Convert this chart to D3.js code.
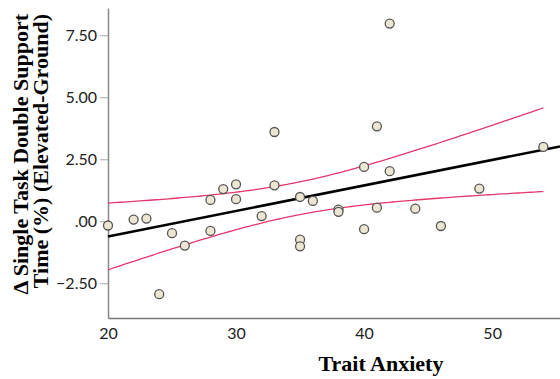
<!DOCTYPE html>
<html>
<head>
<meta charset="utf-8">
<script src="https://cdn.jsdelivr.net/npm/d3@7"></script>
<style>
  body { margin: 0; background: #fff; }
  .tick text { font-family: Lato, "Open Sans", sans-serif; font-size: 16px; fill: #222; }
  .axis-title { font-family: "Liberation Serif", "Times New Roman", serif; font-weight: bold; font-size: 22px; fill: #000; }
</style>
</head>
<body>
<main></main>
<script>
// trait anxiety scores (x) and change in double support time (y)
const anxiety = [20, 22, 23, 24, 25, 26, 28, 28, 29, 30, 30, 32, 33, 33, 35, 35, 35, 36, 38, 38, 40, 40, 41, 41, 42, 42, 44, 46, 49, 54];
const dsDelta = [-0.17, 0.07, 0.11, -2.94, -0.48, -0.98, 0.86, -0.39, 1.30, 1.49, 0.89, 0.21, 3.60, 1.45, 0.98, -0.74, -1.01, 0.82, 0.47, 0.38, 2.19, -0.32, 3.83, 0.55, 2.02, 7.97, 0.51, -0.19, 1.32, 3.00];
const xTicks = [20, 30, 40, 50];
const yTicks = [-2.5, 0, 2.5, 5, 7.5];

const W = 560, H = 379;
const x = d3.scaleLinear().domain([20, 55.3]).range([108, 560]);
const y = d3.scaleLinear().domain([-3.9, 8.6]).range([318, 8]);

const svg = d3.select("main").append("svg")
    .attr("width", W)
    .attr("height", H);

const data = anxiety.map((a, i) => ({x: a, y: dsDelta[i]}));

// linear fit + 95% CI of the mean
const n = data.length
    , mx = d3.mean(data, d => d.x)
    , my = d3.mean(data, d => d.y)
    , sxx = d3.sum(data, d => (d.x - mx) ** 2)
    , sxy = d3.sum(data, d => (d.x - mx) * (d.y - my));
const slope = sxy / sxx, icpt = my - slope * mx;
const sres = Math.sqrt(d3.sum(data, d => (d.y - icpt - slope * d.x) ** 2) / (n - 2));
const tcrit = 2.048; // df = 28
const fit = v => icpt + slope * v;
const band = v => tcrit * sres * Math.sqrt(1 / n + (v - mx) ** 2 / sxx);

// y axis
const yAxis = svg.append("g")
    .attr("transform", `translate(${x(20)},0)`)
    .call(d3.axisLeft(y).tickValues(yTicks).tickSize(8).tickSizeOuter(0).tickPadding(3)
      .tickFormat(d => d === 0 ? ".00" : d3.format(".2f")(d)));
yAxis.select(".domain").attr("stroke", "#888").attr("stroke-width", 1.5);
yAxis.selectAll(".tick line").attr("stroke", "#aaa");

// x axis
const xAxis = svg.append("g")
    .attr("transform", `translate(0,${y(-3.9)})`)
    .call(d3.axisBottom(x).tickValues(xTicks).tickSize(0).tickSizeOuter(0).tickPadding(10));
xAxis.select(".domain").attr("stroke", "#777").attr("stroke-width", 1.5);

// CI curves
const xs = d3.range(20, 54.01, 0.25);
const line = d3.line().x(d => x(d[0])).y(d => y(d[1]));
[1, -1].forEach(s => {
  svg.append("path")
      .attr("d", line(xs.map(v => [v, fit(v) + s * band(v)])))
      .attr("fill", "none")
      .attr("stroke", "#e2386a")
      .attr("stroke-width", 1.3);
});

// fit line
svg.append("path")
    .attr("d", line([[20, fit(20)], [55.3, fit(55.3)]]))
    .attr("fill", "none")
    .attr("stroke", "#000")
    .attr("stroke-width", 2.5);

// points
svg.selectAll(".dot")
    .data(data)
  .enter().append("circle")
    .attr("class", "dot")
    .attr("cx", d => x(d.x))
    .attr("cy", d => y(d.y))
    .attr("r", 4.5)
    .attr("fill", "#ebe5d2")
    .attr("stroke", "#555")
    .attr("stroke-width", 1.3);

// titles
svg.append("text")
    .attr("class", "axis-title")
    .attr("x", 381)
    .attr("y", 371)
    .attr("text-anchor", "middle")
    .text("Trait Anxiety");

const yt = svg.append("text")
    .attr("class", "axis-title")
    .attr("transform", "translate(28,14) rotate(-90)")
    .attr("text-anchor", "end");
yt.append("tspan").attr("x", 0).attr("y", 0).text("Δ Single Task Double Support");
yt.append("tspan").attr("x", 0).attr("y", 20).text("Time (%) (Elevated-Ground)");
</script>
</body>
</html>
